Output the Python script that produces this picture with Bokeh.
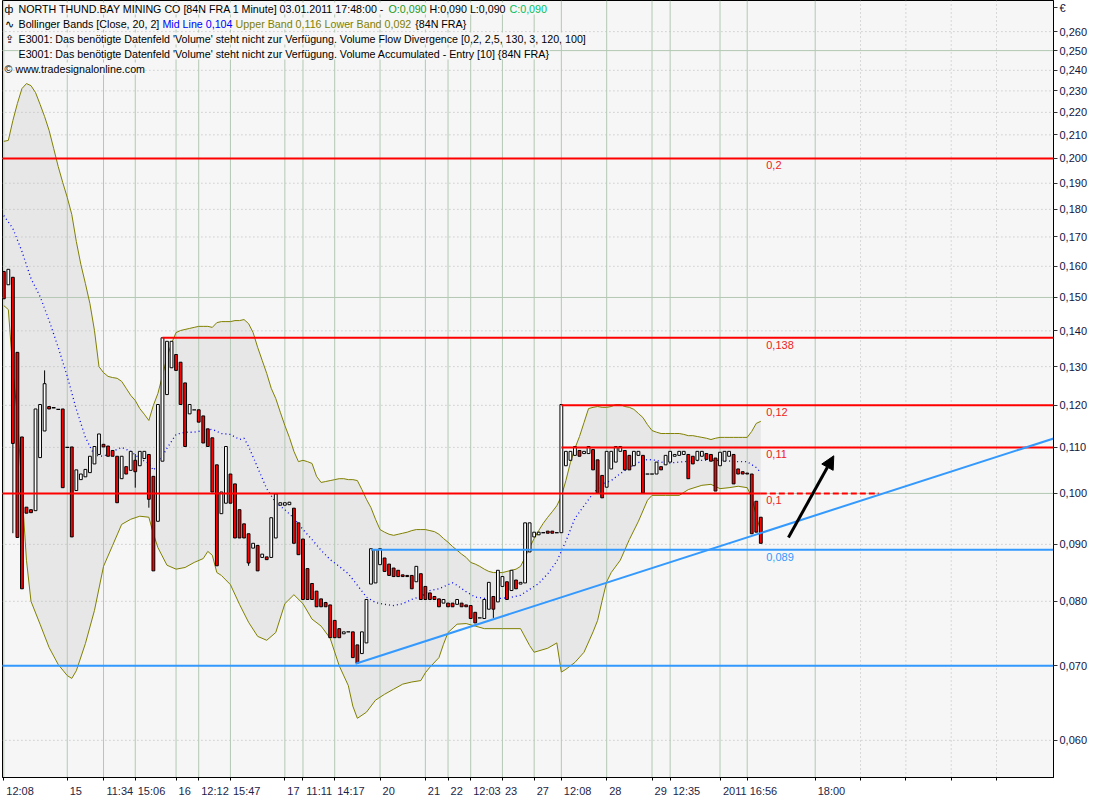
from bokeh.plotting import figure
from bokeh.models import Range1d, FixedTicker, Label, Arrow, NormalHead, LinearAxis
from bokeh.core.properties import value
from bokeh.embed import file_html
from bokeh.resources import INLINE

# ---------------- data ----------------
opens = [
    0.1583, 0.1540, 0.1564, 0.1339, 0.1124, 0.0972, 0.0967, 0.0965, 0.1077, 0.1138,
    0.1197, 0.1194, 0.1190, 0.1191, 0.1100, 0.1101, 0.1006, 0.1029, 0.1035, 0.1044,
    0.1063, 0.1084, 0.1107, 0.1103, 0.1093, 0.1080, 0.1031, 0.1057, 0.1049, 0.1071,
    0.1059, 0.1075, 0.1084, 0.1036, 0.0944, 0.1069, 0.1227, 0.1297, 0.1333, 0.1312,
    0.1257, 0.1179, 0.1189, 0.1189, 0.1174, 0.1143, 0.1122, 0.1061, 0.0959, 0.0980,
    0.1041, 0.1020, 0.0967, 0.0939, 0.0920, 0.0893, 0.0898, 0.0876, 0.0877, 0.0876,
    0.0912, 0.0976, 0.0976, 0.0977, 0.0970, 0.0941, 0.0910, 0.0856, 0.0830, 0.0817,
    0.0804, 0.0798, 0.0794, 0.0769, 0.0756, 0.0748, 0.0751, 0.0751, 0.0731, 0.0718,
    0.0734, 0.0829, 0.0831, 0.0863, 0.0875, 0.0864, 0.0857, 0.0853, 0.0845, 0.0844,
    0.0844, 0.0833, 0.0847, 0.0825, 0.0814, 0.0808, 0.0804, 0.0797, 0.0797, 0.0797,
    0.0795, 0.0797, 0.0794, 0.0793, 0.0782, 0.0773, 0.0772, 0.0787, 0.0808, 0.0799,
    0.0825, 0.0833, 0.0818, 0.0836, 0.0829, 0.0831, 0.0886, 0.0914, 0.0918, 0.0922,
    0.0925, 0.0925, 0.0922, 0.0922, 0.1059, 0.1071, 0.1082, 0.1093, 0.1086, 0.1086,
    0.1095, 0.1072, 0.1038, 0.1013, 0.1052, 0.1067, 0.1091, 0.1093, 0.1082, 0.1059,
    0.1082, 0.1082, 0.1041, 0.1041, 0.1041, 0.1057, 0.1061, 0.1067, 0.1080, 0.1082,
    0.1084, 0.1084, 0.1080, 0.1071, 0.1080, 0.1086, 0.1084, 0.1076, 0.1059, 0.1069,
    0.1080, 0.1084, 0.1052, 0.1046, 0.1043, 0.1041, 0.0984, 0.0952]

closes = [
    0.1496, 0.1590, 0.1109, 0.0913, 0.0821, 0.0960, 0.0961, 0.1191, 0.1202, 0.1255,
    0.1191, 0.1194, 0.1190, 0.1012, 0.1100, 0.0914, 0.1050, 0.1041, 0.1051, 0.1080,
    0.1102, 0.1131, 0.1101, 0.1080, 0.1080, 0.0981, 0.1080, 0.1041, 0.1091, 0.1046,
    0.1091, 0.1091, 0.0988, 0.0852, 0.1202, 0.1380, 0.1370, 0.1370, 0.1290, 0.1202,
    0.1102, 0.1202, 0.1189, 0.1159, 0.1110, 0.1102, 0.1003, 0.0861, 0.1003, 0.1102,
    0.0980, 0.0912, 0.0912, 0.0912, 0.0866, 0.0902, 0.0852, 0.0882, 0.0872, 0.0951,
    0.0999, 0.0981, 0.0981, 0.0982, 0.0902, 0.0881, 0.0803, 0.0803, 0.0803, 0.0791,
    0.0791, 0.0791, 0.0742, 0.0742, 0.0742, 0.0751, 0.0751, 0.0712, 0.0704, 0.0751,
    0.0803, 0.0892, 0.0890, 0.0892, 0.0851, 0.0844, 0.0842, 0.0842, 0.0842, 0.0842,
    0.0821, 0.0860, 0.0803, 0.0803, 0.0803, 0.0803, 0.0791, 0.0803, 0.0791, 0.0791,
    0.0803, 0.0791, 0.0791, 0.0772, 0.0765, 0.0773, 0.0803, 0.0832, 0.0787, 0.0853,
    0.0842, 0.0803, 0.0853, 0.0821, 0.0832, 0.0941, 0.0941, 0.0923, 0.0923, 0.0922,
    0.0921, 0.0921, 0.0922, 0.1202, 0.1091, 0.1091, 0.1102, 0.1080, 0.1091, 0.1102,
    0.1050, 0.1001, 0.0991, 0.1091, 0.1091, 0.1102, 0.1102, 0.1050, 0.1050, 0.1091,
    0.1091, 0.1001, 0.1041, 0.1041, 0.1067, 0.1050, 0.1082, 0.1091, 0.1084, 0.1091,
    0.1091, 0.1031, 0.1063, 0.1091, 0.1091, 0.1073, 0.1069, 0.1005, 0.1089, 0.1091,
    0.1091, 0.1020, 0.1041, 0.1041, 0.1041, 0.0920, 0.0923, 0.0902]

wick_highs = {9: 0.1290, 29: 0.1085}
wick_lows = {2: 0.0921, 29: 0.1012, 32: 0.0971, 54: 0.0861, 78: 0.0703, 108: 0.0773}

upper_vals = [
    0.2072, 0.2076, 0.2163, 0.2241, 0.2311, 0.2335, 0.2325, 0.2292, 0.2237, 0.2181,
    0.2119, 0.2042, 0.1967, 0.1903, 0.1845, 0.1781, 0.1684, 0.1606, 0.1544, 0.1481,
    0.1401, 0.1300, 0.1284, 0.1274, 0.1271, 0.1269, 0.1261, 0.1243, 0.1225, 0.1212,
    0.1192, 0.1178, 0.1163, 0.1200, 0.1230, 0.1276, 0.1325, 0.1364, 0.1395, 0.1401,
    0.1404, 0.1407, 0.1410, 0.1413, 0.1413, 0.1413, 0.1410, 0.1424, 0.1427, 0.1427,
    0.1427, 0.1430, 0.1430, 0.1433, 0.1421, 0.1395, 0.1353, 0.1317, 0.1282, 0.1243,
    0.1217, 0.1183, 0.1151, 0.1123, 0.1091, 0.1068, 0.1071, 0.1068, 0.1064, 0.1036,
    0.1023, 0.1025, 0.1027, 0.1029, 0.1031, 0.1031, 0.1029, 0.1029, 0.1027, 0.1008,
    0.0988, 0.0971, 0.0948, 0.0928, 0.0923, 0.0919, 0.0917, 0.0919, 0.0921, 0.0923,
    0.0926, 0.0928, 0.0928, 0.0928, 0.0926, 0.0924, 0.0919, 0.0911, 0.0904, 0.0896,
    0.0889, 0.0882, 0.0876, 0.0867, 0.0864, 0.0860, 0.0855, 0.0851, 0.0849, 0.0849,
    0.0849, 0.0851, 0.0853, 0.0855, 0.0860, 0.0876, 0.0894, 0.0911, 0.0926, 0.0940,
    0.0952, 0.0963, 0.0975, 0.0994, 0.1027, 0.1066, 0.1098, 0.1125, 0.1158, 0.1192,
    0.1195, 0.1197, 0.1195, 0.1195, 0.1197, 0.1202, 0.1202, 0.1197, 0.1195, 0.1190,
    0.1180, 0.1170, 0.1153, 0.1139, 0.1135, 0.1132, 0.1132, 0.1132, 0.1132, 0.1132,
    0.1130, 0.1127, 0.1127, 0.1125, 0.1123, 0.1121, 0.1118, 0.1121, 0.1123, 0.1123,
    0.1123, 0.1123, 0.1123, 0.1123, 0.1123, 0.1137, 0.1156, 0.1161]
upper_bars = list(range(len(upper_vals)))

lower_bars = [0, 1, 2, 3, 4, 5, 6, 8, 10, 12, 14, 15, 16, 18, 20, 22, 24, 26, 28, 30,
              32, 33, 34, 36, 38, 40, 42, 44, 45, 46, 47, 48, 50, 52, 54, 56, 58, 60, 62, 64,
              66, 68, 70, 72, 74, 76, 77, 78, 80, 82, 84, 86, 88, 90, 92, 93, 94, 96, 97, 98,
              100, 102, 104, 106, 110, 114, 116, 117, 120, 122, 123, 124, 126, 128, 130, 131, 132, 133, 134, 136,
              138, 140, 142, 143, 146, 149, 151, 154, 156, 158, 160, 162, 164, 165, 166, 167]
lower_vals = [0.1475, 0.1463, 0.1290, 0.1175, 0.1006, 0.0871, 0.0800, 0.0763, 0.0727, 0.0702,
              0.0686, 0.0682, 0.0693, 0.0733, 0.0785, 0.0860, 0.0898, 0.0938, 0.0948, 0.0954,
              0.0952, 0.0920, 0.0894, 0.0862, 0.0855, 0.0858, 0.0867, 0.0874, 0.0887, 0.0880,
              0.0849, 0.0844, 0.0828, 0.0795, 0.0766, 0.0744, 0.0738, 0.0750, 0.0796, 0.0811,
              0.0796, 0.0771, 0.0760, 0.0741, 0.0700, 0.0672, 0.0644, 0.0628, 0.0636, 0.0652,
              0.0660, 0.0667, 0.0674, 0.0677, 0.0679, 0.0690, 0.0698, 0.0712, 0.0732, 0.0750,
              0.0763, 0.0764, 0.0760, 0.0756, 0.0756, 0.0756, 0.0730, 0.0720, 0.0726, 0.0734,
              0.0691, 0.0695, 0.0705, 0.0720, 0.0751, 0.0769, 0.0801, 0.0833, 0.0849, 0.0871,
              0.0909, 0.0944, 0.0986, 0.0996, 0.0996, 0.0996, 0.1008, 0.1017, 0.1019, 0.1010,
              0.1012, 0.1015, 0.1012, 0.0992, 0.0955, 0.0924]

mid_bars = [0, 2, 4, 6, 8, 10, 12, 14, 16, 18, 20, 22, 24, 26, 28, 30, 32, 33, 34, 36,
            38, 40, 42, 44, 46, 48, 50, 52, 53, 54, 56, 58, 60, 62, 64, 66, 68, 70, 72, 74,
            76, 78, 80, 82, 84, 86, 88, 90, 92, 94, 96, 98, 99, 100, 102, 104, 106, 108, 110, 112,
            114, 116, 118, 120, 122, 124, 126, 128, 130, 132, 134, 136, 138, 140, 142, 144, 146, 148, 150, 154,
            158, 162, 164, 166, 167]
mid_vals = [0.1777, 0.1730, 0.1650, 0.1560, 0.1503, 0.1430, 0.1353, 0.1274, 0.1190, 0.1123,
            0.1082, 0.1080, 0.1091, 0.1100, 0.1091, 0.1075, 0.1064, 0.1049, 0.1062, 0.1098,
            0.1130, 0.1135, 0.1135, 0.1139, 0.1142, 0.1132, 0.1130, 0.1118, 0.1121, 0.1102,
            0.1055, 0.1010, 0.0981, 0.0967, 0.0950, 0.0928, 0.0909, 0.0889, 0.0872, 0.0860,
            0.0847, 0.0827, 0.0807, 0.0798, 0.0795, 0.0793, 0.0796, 0.0803, 0.0808, 0.0818,
            0.0821, 0.0828, 0.0831, 0.0827, 0.0816, 0.0807, 0.0805, 0.0805, 0.0805, 0.0807,
            0.0810, 0.0820, 0.0830, 0.0847, 0.0869, 0.0906, 0.0950, 0.0975, 0.1000, 0.1019,
            0.1027, 0.1042, 0.1055, 0.1066, 0.1073, 0.1071, 0.1064, 0.1066, 0.1068, 0.1071,
            0.1071, 0.1068, 0.1068, 0.1055, 0.1044]

tick_bars = [0, 14, 22, 29, 38, 43, 50, 62, 66, 73, 83, 93, 98, 103, 110, 117, 123,
             133, 143, 147, 158, 164, 179]
tick_labels = ["12:08", "15", "11:34", "15:06", "16", "12:12", "15:47", "17", "11:11",
               "14:17", "20", "21", "22", "12:03", "23", "27", "12:08", "28", "29",
               "12:35", "2011", "16:56", "18:00"]
future_ticks = [189, 199, 209, 219]

price_ticks = [0.06, 0.07, 0.08, 0.09, 0.10, 0.11, 0.12, 0.13, 0.14, 0.15, 0.16,
               0.17, 0.18, 0.19, 0.20, 0.21, 0.22, 0.23, 0.24, 0.25, 0.26]
price_labels = ["0,060", "0,070", "0,080", "0,090", "0,100", "0,110", "0,120", "0,130",
                "0,140", "0,150", "0,160", "0,170", "0,180", "0,190", "0,200", "0,210",
                "0,220", "0,230", "0,240", "0,250", "0,260"]
currency_label = "€"

red_levels = [0.2, 0.138, 0.12, 0.11, 0.1]
red_level_labels = ["0,2", "0,138", "0,12", "0,11", "0,1"]
red_level_from = [-5, 35, 123, 123, -5]
red_level_to = [260, 260, 260, 260, 167]
red_dash_from, red_dash_to = 167, 193
blue_levels = [0.089, 0.07]
blue_level_labels = ["0,089", ""]
blue_level_from = [81, -5]
trend_bars = [77.6, 233.5]
trend_vals = [0.0703, 0.1127]
arrow_from = (173.1, 0.0913)
arrow_to = (183.1, 0.1081)
level_label_bar = 168.2

# ---------------- figure ----------------
FW, FH = 1051, 777
X0, X1 = -0.287, 231.57
Y0, Y1 = 0.05556, 0.2773
FONT = "Liberation Sans"
BG = "#f5f6f5"
p = figure(frame_width=FW, frame_height=FH,
           x_range=Range1d(X0, X1), y_range=Range1d(Y0, Y1),
           y_axis_type="log", y_axis_location="right",
           output_backend="svg", toolbar_location=None,
           min_border_left=2, min_border_top=0, min_border_right=40, min_border_bottom=0,
           background_fill_color=BG, border_fill_color="white")
p.outline_line_color = "black"
p.xgrid.visible = False
p.ygrid.visible = False

xs0, xs1 = X0 - 2, X1 + 2

# Bollinger band fill
p.patch(upper_bars + lower_bars[::-1], upper_vals + lower_vals[::-1],
        fill_color="#e7e7e7", line_color=None)

# grid
solid_h = [t for t in price_ticks if round(t * 100) % 5 == 0]
dotted_h = [t for t in price_ticks if round(t * 100) % 5 != 0]
p.segment(x0=[xs0] * len(dotted_h), y0=dotted_h, x1=[xs1] * len(dotted_h), y1=dotted_h,
          line_color="#b8b8b8", line_width=1, line_dash="1 3")
p.segment(x0=[xs0] * len(solid_h), y0=solid_h, x1=[xs1] * len(solid_h), y1=solid_h,
          line_color="#b4c8b4", line_width=1)
p.segment(x0=tick_bars, y0=[Y0] * len(tick_bars), x1=tick_bars, y1=[Y1] * len(tick_bars),
          line_color="#b4c8b4", line_width=1)
p.segment(x0=future_ticks, y0=[Y0] * len(future_ticks), x1=future_ticks, y1=[Y1] * len(future_ticks),
          line_color="#b8b8b8", line_width=1, line_dash="1 3")

# Bollinger lines
p.line(upper_bars, upper_vals, line_color="#808000", line_width=1)
p.line(lower_bars, lower_vals, line_color="#808000", line_width=1)
p.line(mid_bars, mid_vals, line_color="#0000ff", line_width=1.3, line_dash="1 3")

# candles
idx = list(range(len(opens)))
up = [i for i in idx if closes[i] > opens[i]]
dn = [i for i in idx if closes[i] < opens[i]]
dj = [i for i in idx if closes[i] == opens[i]]
wx, wy0, wy1 = [], [], []
for i, h in wick_highs.items():
    wx.append(i); wy0.append(max(opens[i], closes[i])); wy1.append(h)
for i, l in wick_lows.items():
    wx.append(i); wy0.append(min(opens[i], closes[i])); wy1.append(l)
p.segment(x0=wx, y0=wy0, x1=wx, y1=wy1, line_color="black", line_width=1)
p.vbar(x=up, width=0.62, top=[closes[i] for i in up], bottom=[opens[i] for i in up],
       fill_color="white", line_color="black", line_width=1)
p.vbar(x=dn, width=0.62, top=[opens[i] for i in dn], bottom=[closes[i] for i in dn],
       fill_color="#ff0000", line_color="black", line_width=1)
p.segment(x0=[i - 0.4 for i in dj], y0=[opens[i] for i in dj],
          x1=[i + 0.4 for i in dj], y1=[closes[i] for i in dj],
          line_color="black", line_width=1.3)

# horizontal levels, trend line
p.segment(x0=red_level_from, y0=red_levels, x1=red_level_to, y1=red_levels,
          line_color="#ff0000", line_width=2)
p.segment(x0=[red_dash_from], y0=[red_levels[-1]], x1=[red_dash_to], y1=[red_levels[-1]],
          line_color="#ff0000", line_width=2, line_dash="6 3")
p.segment(x0=blue_level_from, y0=blue_levels, x1=[260] * len(blue_levels), y1=blue_levels,
          line_color="#3399ff", line_width=2)
p.line(trend_bars, trend_vals, line_color="#3399ff", line_width=2)

p.text(x=[level_label_bar] * len(red_levels), y=red_levels, text=red_level_labels,
       text_color="#ee2222", text_font_size="11px", text_baseline="top", y_offset=3,
       text_font=value(FONT))
p.text(x=[level_label_bar] * len(blue_levels), y=blue_levels, text=blue_level_labels,
       text_color="#3399ff", text_font_size="11px", text_baseline="top", y_offset=3,
       text_font=value(FONT))

p.add_layout(Arrow(end=NormalHead(size=13, fill_color="black", line_color="black"),
                   x_start=arrow_from[0], y_start=arrow_from[1],
                   x_end=arrow_to[0], y_end=arrow_to[1],
                   line_color="black", line_width=3))

# right price axis (the currency sign sits at the top of it)
ya = p.yaxis[0]
ya.ticker = FixedTicker(ticks=price_ticks + [Y1 * 0.985])
overrides = {t: s for t, s in zip(price_ticks, price_labels)}
overrides[Y1 * 0.985] = currency_label
ya.major_label_overrides = overrides
ya.minor_tick_line_color = None
ya.major_tick_in = 0
ya.major_tick_out = 4
ya.major_label_standoff = 2
ya.axis_line_color = "black"
ya.major_tick_line_color = "#333333"
ya.major_label_text_font = FONT
ya.major_label_text_font_size = "11px"
ya.major_label_text_color = "#14143c"

# bottom axis: tick marks only (its labels are switched off)
xa = p.xaxis[0]
xa.ticker = FixedTicker(ticks=tick_bars + future_ticks)
xa.minor_tick_line_color = None
xa.major_tick_in = 0
xa.major_tick_out = 3
xa.major_label_standoff = 0
xa.major_label_text_color = None
xa.axis_line_color = "black"
xa.major_tick_line_color = "black"

# second bottom axis: time labels, set just right of each tick mark
CHAR_W = {":": 3.06}
px_per_bar = FW / (X1 - X0)
label_pos = []
for b, s in zip(tick_bars, tick_labels):
    w = sum(CHAR_W.get(ch, 6.12) for ch in s)
    label_pos.append(b + (2.5 + w / 2.0) / px_per_bar)
xl = LinearAxis(ticker=FixedTicker(ticks=label_pos),
                major_label_overrides={t: s for t, s in zip(label_pos, tick_labels)},
                major_tick_line_color=None, minor_tick_line_color=None,
                major_tick_in=0, major_tick_out=0, minor_tick_in=0, minor_tick_out=0,
                axis_line_color=None, major_label_standoff=4,
                major_label_text_font=FONT, major_label_text_font_size="11px",
                major_label_text_color="#1e1e46")
p.add_layout(xl, "below")

# header
HFS = "10.7px"
line_tops = [2, 17, 32, 47, 62]
header = [
    (0, 2, "ф", "black"),
    (0, 16, "NORTH THUND.BAY MINING CO [84N FRA  1 Minute] 03.01.2011 17:48:00 -", "black"),
    (0, 386, "O:0,090", "#1a9a1a"),
    (0, 427, "H:0,090 L:0,090", "black"),
    (0, 507, "C:0,090", "#00c060"),
    (1, 2, "∿", "black"),
    (1, 16, "Bollinger Bands [Close, 20, 2]", "black"),
    (1, 159.9, "Mid Line 0,104", "#0000ff"),
    (1, 233.1, "Upper Band 0,116 Lower Band 0,092", "#808000"),
    (1, 412.7, "{84N FRA}", "black"),
    (2, 2, "⇪", "black"),
    (2, 16, "E3001: Das benötigte Datenfeld 'Volume' steht nicht zur Verfügung. Volume Flow Divergence [0,2, 2,5, 130, 3, 120, 100]", "black"),
    (3, 16, "E3001: Das benötigte Datenfeld 'Volume' steht nicht zur Verfügung. Volume Accumulated - Entry [10] {84N FRA}", "black"),
    (4, 2, "©", "black"),
    (4, 13, "www.tradesignalonline.com", "black"),
]
for line, sx, txt, col in header:
    p.add_layout(Label(x=sx, y=FH - line_tops[line], x_units="screen", y_units="screen",
                       text=txt, text_font=FONT, text_font_size=HFS, text_color=col,
                       text_baseline="top", background_fill_color=BG))

open("out.html", "w").write(file_html(p, INLINE))
